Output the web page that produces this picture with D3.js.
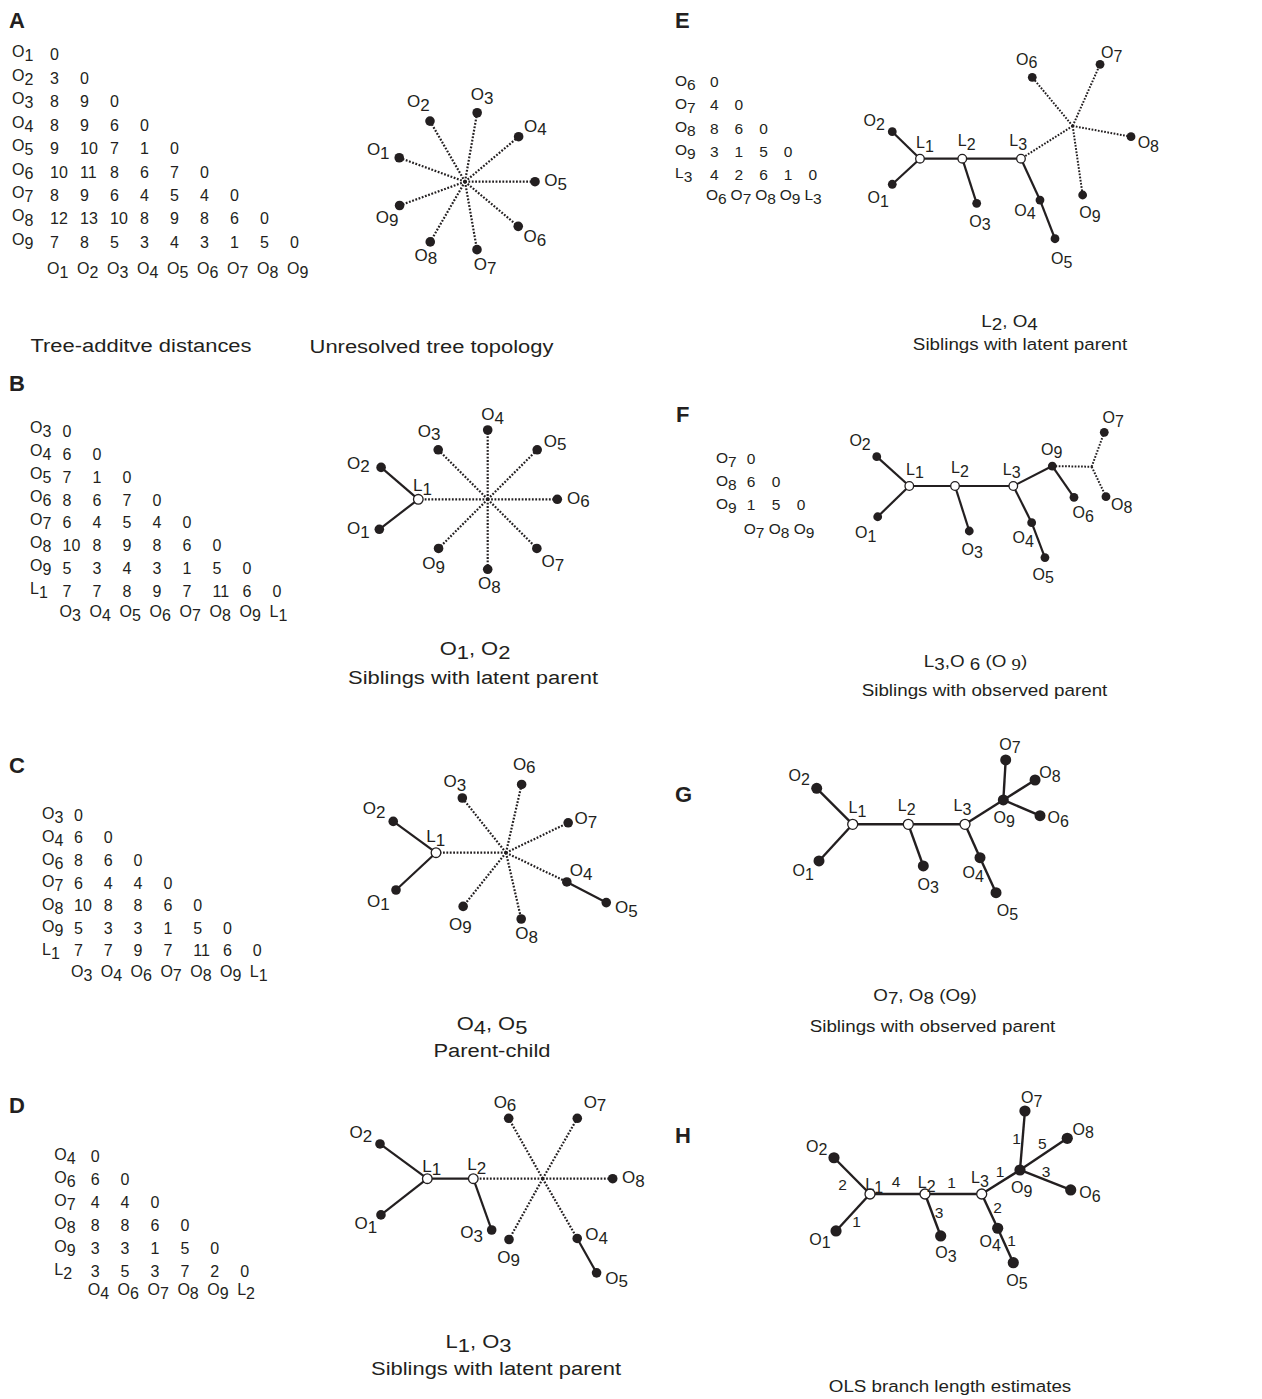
<!DOCTYPE html>
<html>
<head>
<meta charset="utf-8">
<script src="https://cdn.jsdelivr.net/npm/d3@7"></script>
<style>
  body { margin: 0; background: #fff; }
  svg text { font-family: "Liberation Sans", Arial, Helvetica, sans-serif; fill: #231f20; white-space: pre; }
</style>
</head>
<body>
<svg id="fig" width="1262" height="1399"></svg>
<script>
// ================= DATA =================
// Distance matrices (lower triangle) at each agglomeration step
const taxaA = ["O1","O2","O3","O4","O5","O6","O7","O8","O9"];
const distA = [
  [0],
  [3,0],
  [8,9,0],
  [8,9,6,0],
  [9,10,7,1,0],
  [10,11,8,6,7,0],
  [8,9,6,4,5,4,0],
  [12,13,10,8,9,8,6,0],
  [7,8,5,3,4,3,1,5,0]
];
const taxaB = ["O3","O4","O5","O6","O7","O8","O9","L1"];
const distB = [
  [0],
  [6,0],
  [7,1,0],
  [8,6,7,0],
  [6,4,5,4,0],
  [10,8,9,8,6,0],
  [5,3,4,3,1,5,0],
  [7,7,8,9,7,11,6,0]
];
const taxaC = ["O3","O4","O6","O7","O8","O9","L1"];
const distC = [
  [0],
  [6,0],
  [8,6,0],
  [6,4,4,0],
  [10,8,8,6,0],
  [5,3,3,1,5,0],
  [7,7,9,7,11,6,0]
];
const taxaD = ["O4","O6","O7","O8","O9","L2"];
const distD = [
  [0],
  [6,0],
  [4,4,0],
  [8,8,6,0],
  [3,3,1,5,0],
  [3,5,3,7,2,0]
];
const taxaE = ["O6","O7","O8","O9","L3"];
const distE = [
  [0],
  [4,0],
  [8,6,0],
  [3,1,5,0],
  [4,2,6,1,0]
];
const taxaF = ["O7","O8","O9"];
const distF = [
  [0],
  [6,0],
  [1,5,0]
];

// Tree topologies: [parent, child, resolved]; "h" is the unresolved hub
const edgesA = [["h","O1",false],["h","O2",false],["h","O3",false],["h","O4",false],["h","O5",false],
                ["h","O6",false],["h","O7",false],["h","O8",false],["h","O9",false]];
const edgesB = [["h","L1",false],["h","O3",false],["h","O4",false],["h","O5",false],["h","O6",false],
                ["h","O7",false],["h","O8",false],["h","O9",false],["L1","O2",true],["L1","O1",true]];
const edgesC = [["h","L1",false],["h","O3",false],["h","O6",false],["h","O7",false],["h","O4",false],
                ["h","O8",false],["h","O9",false],["L1","O2",true],["L1","O1",true],["O4","O5",true]];
const edgesD = [["h","L2",false],["h","O6",false],["h","O7",false],["h","O8",false],["h","O4",false],
                ["h","O9",false],["L2","L1",true],["L2","O3",true],["L1","O2",true],["L1","O1",true],["O4","O5",true]];
const edgesE = [["h","L3",false],["h","O6",false],["h","O7",false],["h","O8",false],["h","O9",false],
                ["L3","L2",true],["L3","O4",true],["O4","O5",true],["L2","L1",true],["L2","O3",true],
                ["L1","O2",true],["L1","O1",true]];
const edgesF = [["L1","O2",true],["L1","O1",true],["L1","L2",true],["L2","L3",true],["L2","O3",true],
                ["L3","O9",true],["L3","O4",true],["O4","O5",true],["O9","O6",true],["O9","h",false],
                ["h","O7",false],["h","O8",false]];
const edgesG = [["L1","O2",true],["L1","O1",true],["L1","L2",true],["L2","L3",true],["L2","O3",true],
                ["L3","O9",true],["L3","O4",true],["O4","O5",true],["O9","O7",true],["O9","O8",true],["O9","O6",true]];
const edgesH = edgesG.map(e => e.slice());

// OLS branch length estimates for the final tree
const olsLengths = [["L1","O2",2],["L1","O1",1],["L1","L2",4],["L2","L3",1],["L2","O3",3],
                    ["L3","O9",1],["L3","O4",2],["O4","O5",1],["O9","O7",1],["O9","O8",5],["O9","O6",3]];

// Captions
const captionMatrixA = ["Tree-additve distances"];
const captionA = ["Unresolved tree topology"];
const captionB = ["O1, O2", "Siblings with latent parent"];
const captionC = ["O4, O5", "Parent-child"];
const captionD = ["L1, O3", "Siblings with latent parent"];
const captionE = ["L2, O4", "Siblings with latent parent"];
const captionF = ["L3,O 6 (O 9)", "Siblings with observed parent"];
const captionG = ["O7, O8 (O9)", "Siblings with observed parent"];
const captionH = ["OLS branch length estimates"];
const panelLetters = ["A","B","C","D","E","F","G","H"];

// ================= DRAWING =================
const svg = d3.select("#fig");
const INK = "#231f20";

// Text with numeric subscripts ("O1" -> O with subscript 1); sx widens the glyphs
function richText(parent, str, x, y, size, anchor, subShift, sx) {
  const t = parent.append("text")
    .attr("font-size", size)
    .attr("text-anchor", anchor || "start");
  if (sx) t.attr("x", 0).attr("y", 0).attr("transform", `translate(${x},${y}) scale(${sx},1)`);
  else t.attr("x", x).attr("y", y);
  const sh = subShift == null ? size * 0.26 : subShift;
  let low = false;
  str.split(/(\d+)/).filter(p => p !== "").forEach(p => {
    const isSub = /^\d+$/.test(p);
    const ts = t.append("tspan").text(p);
    if (isSub && !low) { ts.attr("dy", sh); low = true; }
    else if (!isSub && low) { ts.attr("dy", -sh); low = false; }
  });
  return t;
}

// ---- panel letters ----
const letterPos = {A:[9,28],B:[9,391],C:[9,773],D:[9,1113],E:[675,28],F:[676,422],G:[675,802],H:[675,1143]};
panelLetters.forEach(l => {
  svg.append("text").attr("x", letterPos[l][0]).attr("y", letterPos[l][1])
    .attr("font-size", 22).attr("font-weight", "bold").text(l);
});

// ---- distance matrices ----
function drawMatrix(taxa, dist, m) {
  const g = svg.append("g");
  const n = taxa.length;
  const col = d3.scalePoint().domain(d3.range(n)).range([m.nx, m.nx + m.step * (n - 1)]);
  const row = d3.scalePoint().domain(d3.range(n)).range([m.y0, m.y0 + m.rstep * (n - 1)]);
  taxa.forEach((lab, i) => {
    richText(g, lab, m.lx, row(i), m.fs);
    dist[i].forEach((v, j) => {
      g.append("text").attr("x", col(j)).attr("y", row(i) + m.ndy)
        .attr("font-size", m.fs).text(v);
    });
    richText(g, lab, col(i) + m.hdx, m.hy, m.fs);
  });
}
drawMatrix(taxaA, distA, {lx:12,  nx:50,  step:30,   y0:57.3,  rstep:23.45, hy:273.5, hdx:-3, fs:16, ndy:3});
drawMatrix(taxaB, distB, {lx:30,  nx:62.5,step:30,   y0:433.3, rstep:22.9,  hy:616.7, hdx:-3, fs:16, ndy:3.5});
drawMatrix(taxaC, distC, {lx:42,  nx:74,  step:29.8, y0:819.3, rstep:22.6,  hy:976.7, hdx:-3, fs:16, ndy:1.5});
drawMatrix(taxaD, distD, {lx:54.3,nx:90.7,step:29.9, y0:1160,  rstep:23,    hy:1295,  hdx:-3, fs:16, ndy:1.5});
drawMatrix(taxaE, distE, {lx:675, nx:710, step:24.6, y0:86,    rstep:23.1,  hy:200,   hdx:-4, fs:15.5, ndy:1.3});
drawMatrix(taxaF, distF, {lx:716, nx:746.7,step:25,  y0:463.3, rstep:23,    hy:534,   hdx:-3, fs:15.5, ndy:1});

// ---- trees ----
function drawTree(edges, t) {
  const g = svg.append("g").attr("transform", `translate(${t.at[0]},${t.at[1]})`);
  const len = d3.scaleLinear().domain([0, 100]).range([0, 100]);
  const ang = d3.scaleLinear().domain([0, 180]).range([0, Math.PI]);
  const pos = {}; pos[t.root] = [0, 0];
  edges.forEach(([p, c]) => {
    const [a, l] = t.polar[c];
    pos[c] = [pos[p][0] + len(l) * Math.cos(ang(a)), pos[p][1] - len(l) * Math.sin(ang(a))];
  });
  // branches
  edges.forEach(([p, c, resolved]) => {
    g.append("line")
      .attr("x1", pos[p][0]).attr("y1", pos[p][1])
      .attr("x2", pos[c][0]).attr("y2", pos[c][1])
      .attr("stroke", INK)
      .attr("stroke-width", resolved ? t.sw : t.dw)
      .attr("stroke-dasharray", resolved ? null : t.dash);
  });
  // branch-length labels
  if (t.lengths) {
    t.lengths.forEach(([p, c, v]) => {
      const off = t.lenOff[c];
      const mx = (pos[p][0] + pos[c][0]) / 2 + off[0];
      const my = (pos[p][1] + pos[c][1]) / 2 + off[1];
      g.append("text").attr("x", mx).attr("y", my + t.nfs * 0.358)
        .attr("text-anchor", "middle").attr("font-size", t.nfs).text(v);
    });
  }
  // nodes
  Object.keys(pos).forEach(id => {
    if (id === "h") return;
    const latent = id[0] === "L";
    g.append("circle").attr("cx", pos[id][0]).attr("cy", pos[id][1])
      .attr("r", latent ? t.rl : t.ro)
      .attr("fill", latent ? "#fff" : INK)
      .attr("stroke", INK).attr("stroke-width", latent ? 1.3 : 0);
  });
  // node labels
  Object.keys(t.lab).forEach(id => {
    const [dx, dy] = t.lab[id];
    const sh = t.fs * 0.22;
    richText(g, id, pos[id][0] + dx, pos[id][1] + dy + (0.716 * t.fs - sh) / 2, t.fs, "middle", sh);
  });
}

const leftStyle = {sw: 2.2, dw: 2.2, dash: "1.8 1.6", ro: 4.8, rl: 4.8, fs: 17};
const rightStyle = {sw: 2.2, dw: 2.0, dash: "1.7 1.5", ro: 4.4, rl: 4.3, fs: 16};

drawTree(edgesA, Object.assign({}, leftStyle, {
  root: "h", at: [465, 181.7],
  polar: {O1:[160,70],O2:[120,70],O3:[80,70],O4:[40,70],O5:[0,70],O6:[-40,69.5],O7:[-80,69],O8:[-120,69.5],O9:[-160,69.6]},
  lab: {O1:[-21,-6.5],O2:[-11.7,-18.2],O3:[5,-16.5],O4:[16.7,-9.3],O5:[20.7,0],O6:[16.7,11.8],O7:[8.2,16.5],O8:[-4.3,14.5],O9:[-12.6,12.8]}
}));
drawTree(edgesB, Object.assign({}, leftStyle, {
  root: "h", at: [487.7, 499.3],
  polar: {L1:[180,69.4],O3:[135,70],O4:[90,69.3],O5:[45,70],O6:[0,69.6],O7:[-45,69.5],O8:[-90,70],O9:[-135,69.5],
          O2:[139.4,49],O1:[217.6,49.2]},
  lab: {L1:[4.2,-12.6],O1:[-21,0.7],O2:[-22.7,-3.1],O3:[-9.1,-17.4],O4:[5,-14.2],O5:[18,-7.5],O6:[21,0],O7:[16,14.5],O8:[1.7,15.7],O9:[-5,16.2]}
}));
drawTree(edgesC, Object.assign({}, leftStyle, {
  root: "h", at: [506, 852.7],
  polar: {L1:[180,70],O3:[128.6,70],O6:[77.1,70],O7:[25.7,69],O4:[-25.7,67.5],O8:[-77.1,68],O9:[-128.6,68.7],
          O2:[143.8,53],O1:[223,54.7],O5:[-27.6,44.5]},
  lab: {L1:[-0.2,-14.5],O1:[-17.7,12.4],O2:[-19.1,-11.5],O3:[-7.5,-14.8],O6:[2.6,-19.1],O7:[17.7,-3.2],O4:[14.4,-9.9],O5:[20,6.2],O8:[5.4,16],O9:[-2.7,19]}
}));
drawTree(edgesD, Object.assign({}, leftStyle, {
  root: "h", at: [542.7, 1178.7],
  polar: {L2:[180,69.4],O6:[119.4,69.3],O7:[60.2,69.6],O8:[0,70],O4:[-60,69],O9:[-119,69.5],
          L1:[180,46],O3:[-70.3,54.5],O2:[143.7,58.7],O1:[218,58.8],O5:[-60.6,39.5]},
  lab: {L1:[4.4,-11.2],L2:[3.4,-12.9],O1:[-15.2,10],O2:[-19.2,-9.8],O3:[-20,4.2],O9:[-0.4,19],O6:[-3.7,-15],O7:[17.7,-15],O8:[20.6,0.5],O4:[19.4,-2.5],O5:[20,6.5]}
}));
drawTree(edgesE, Object.assign({}, rightStyle, {
  root: "h", at: [1072.7, 126],
  polar: {L3:[212.3,61.2],O6:[129.7,63.3],O7:[66.1,67.5],O8:[-10.4,59.3],O9:[-81.8,69.7],
          L2:[180,58.7],O4:[-65.3,45.5],O5:[-68.8,41.5],L1:[180,42.3],O3:[-72.1,46.9],O2:[135.7,38.7],O1:[222.7,37.7]},
  lab: {L1:[5,-14.5],L2:[4.4,-16.2],L3:[-2.7,-16.2],O2:[-18.1,-9.2],O1:[-14,14.9],O3:[3.3,19.2],O4:[-15,11.7],O5:[6.7,21.3],O9:[7.3,19.2],O8:[17.3,7.5],O6:[-5.6,-16.5],O7:[11.7,-10.1]}
}));
drawTree(edgesF, Object.assign({}, rightStyle, {
  root: "L1", at: [909.3, 486],
  polar: {O2:[138,43.8],O1:[224.2,44.1],L2:[0,45.7],L3:[0,58.3],O3:[-72.4,47.2],O9:[27.1,43.8],O4:[-63.4,41],
          O5:[-69.2,37.4],O6:[-55.3,38.1],h:[-1,39.4],O7:[69.9,36.6],O8:[-64.5,33.2]},
  lab: {L1:[5.7,-15.2],L2:[5,-16.8],L3:[-1.6,-15.2],O9:[-0.6,-15.2],O2:[-16.7,-14.2],O1:[-11.9,17.5],O3:[2.9,19.8],O4:[-8.4,16.5],O5:[-1.7,18.1],O6:[9.3,16.9],O7:[9,-13.1],O8:[15.7,9.1]}
}));
drawTree(edgesG, Object.assign({}, rightStyle, {
  root: "L1", at: [852.7, 824.3], ro: 5.5, rl: 5, sw: 2.4,
  polar: {O2:[135,50.9],O1:[227.4,49.8],L2:[0,55.6],L3:[0,56.7],O3:[-70.2,44.3],O9:[32.4,45.4],O4:[-65.8,36.6],
          O5:[-65.4,38.5],O7:[86.6,40.1],O8:[32.2,37.5],O6:[-23.2,39.9]},
  lab: {L1:[4.8,-15.1],L2:[-1.6,-16.8],L3:[-2.5,-16.8],O9:[0.9,19.2],O2:[-17.5,-10.8],O1:[-15.7,11.5],O3:[5,19.8],O4:[-6.7,16.5],O5:[11.5,19.8],O6:[18.3,3.5],O7:[4.3,-14.2],O8:[15,-5.8]}
}));
drawTree(edgesH, Object.assign({}, rightStyle, {
  root: "L1", at: [870, 1194], ro: 5.6, rl: 5, sw: 2.4, nfs: 15.5,
  polar: {O2:[134.8,51.1],O1:[227.4,50.2],L2:[0,55],L3:[0,56.7],O3:[-69.5,44.8],O9:[32.1,45.2],O4:[-65,37.8],
          O5:[-65.6,37.8],O7:[85.2,59.2],O8:[33.8,56.9],O6:[-21.5,54.5]},
  lab: {L1:[4.2,-8.2],L2:[1.7,-9.8],L3:[-1.7,-14.8],O9:[1.7,19.2],O2:[-17.3,-10.2],O1:[-16,9.8],O3:[5.3,18.2],O4:[-7.4,15],O5:[3.7,19],O6:[19.3,4.2],O7:[6.7,-11.8],O8:[16,-7.5]},
  lengths: olsLengths,
  lenOff: {O2:[-9.5,8.1],O1:[3.5,9],L2:[-1.5,-13],L3:[-1.8,-11.5],O3:[6.2,-2.5],O4:[7.8,-3.7],O5:[6,-5.5],O9:[-0.8,-11],O7:[-6,-2],O8:[-1.2,-10.7],O6:[0.7,-8.5]}
}));

// ---- captions ----
function caption(lines, spots, size, sx) {
  return lines.map((s, i) => richText(svg, s, spots[i][0], spots[i][1], size, "middle", size * 0.2, sx));
}
const LS = 19, LX = 1.155;   // left-column caption size and widening
const RS = 16.5, RX = 1.14;  // right-column caption size and widening
caption(captionMatrixA, [[141, 352]], LS, LX);
caption(captionA, [[431.5, 353]], LS, LX);
caption(captionB, [[475, 655], [473, 684]], LS, LX);
caption(captionC, [[492, 1030], [492, 1057]], LS, LX);
caption(captionD, [[478.5, 1348], [496, 1375]], LS, LX);
caption(captionE, [[1009.5, 326.5], [1020, 350]], RS, RX);
const capF = caption(captionF, [[975.5, 666.7], [984.5, 696]], RS, RX);
// the last subscript of this label is set in a serif face
capF[0].selectAll("tspan").filter(function () { return this.textContent === "9"; })
  .attr("font-family", "'Liberation Serif', 'Times New Roman', serif");
caption(captionG, [[925, 1000.7], [932.5, 1031.7]], RS, RX);
caption(captionH, [[950, 1391.7]], RS, RX);
</script>
</body>
</html>
